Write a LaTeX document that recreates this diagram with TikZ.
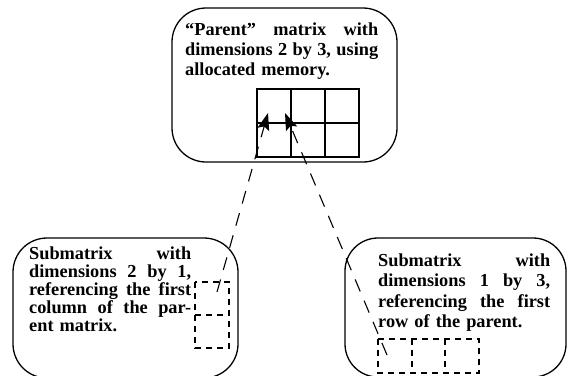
\documentclass[tikz,border=0pt]{standalone}
\usepackage{fontspec}
\setmainfont{Liberation Serif}
\usetikzlibrary{arrows.meta}
\newcommand{\jline}[2]{\makebox[#1][l]{#2}}
\begin{document}
\begin{tikzpicture}[x=1pt,y=-1pt,
  box/.style={draw, line width=1.3pt, rounded corners=#1, inner sep=0pt},
  gridline/.style={line width=1.4pt},
  dboxline/.style={line width=1.1pt, dash pattern=on 6pt off 5pt},
  link/.style={line width=1.1pt, dash pattern=on 13pt off 10pt, -{Stealth[length=17pt,width=12pt,inset=3pt]}},
  txt/.style={anchor=base west, inner sep=0pt, align=left}]
\useasboundingbox (0,0) rectangle (570,375);
\clip (0,0) rectangle (570,375);
% boxes
\node[box=34pt, minimum width=225pt, minimum height=154pt] (parentbox) at (284.5,85) {};
\node[box=34pt, minimum width=225pt, minimum height=140pt] (leftbox) at (125.5,308) {};
\node[box=33pt, minimum width=221pt, minimum height=139pt] (rightbox) at (455.5,307.5) {};
% texts
\node[txt, text width=193pt, font=\bfseries\fontsize{18.3}{20}\selectfont] (ptext) at (185,35)
  {\jline{193pt}{“Parent”\hfill matrix\hfill with}\\\jline{193pt}{dimensions\hfill 2\hfill by\hfill 3,\hfill using}\\allocated memory.};
\node[txt, text width=162pt, font=\bfseries\fontsize{18.3}{18}\selectfont] (ltext) at (29,259)
  {\jline{162pt}{Submatrix\hfill with}\\\jline{162pt}{dimensions\hfill 2\hfill by\hfill 1,}\\\jline{162pt}{referencing\hfill the\hfill first}\\\jline{162pt}{column\hfill of\hfill the\hfill par-}\\ent matrix.};
\node[txt, text width=172pt, font=\bfseries\fontsize{18.3}{20.5}\selectfont] (rtext) at (378,266)
  {\jline{172pt}{Submatrix\hfill with}\\\jline{172pt}{dimensions\hfill 1\hfill by\hfill 3,}\\\jline{172pt}{referencing\hfill the\hfill first}\\row of the parent.};
% parent grid
\draw[gridline] (257,89) rectangle (359,157);
\draw[gridline] (291,89) -- (291,157);
\draw[gridline] (325,89) -- (325,157);
\draw[gridline] (257,123) -- (359,123);
% left dashed column
\draw[dboxline] (195,282) rectangle (229,348);
\draw[dboxline] (195,315) -- (229,315);
% right dashed row
\draw[dboxline] (378,339) rectangle (479,373);
\draw[dboxline] (412,339) -- (412,373);
\draw[dboxline] (445,339) -- (445,373);
% links
\coordinate (ls) at (217,292);
\coordinate (lt) at (268,113);
\coordinate (rs) at (387,355);
\coordinate (rt) at (285,113);
\draw[link] (ls) -- (lt);
\draw[link] (rs) -- (rt);
\end{tikzpicture}
\end{document}
